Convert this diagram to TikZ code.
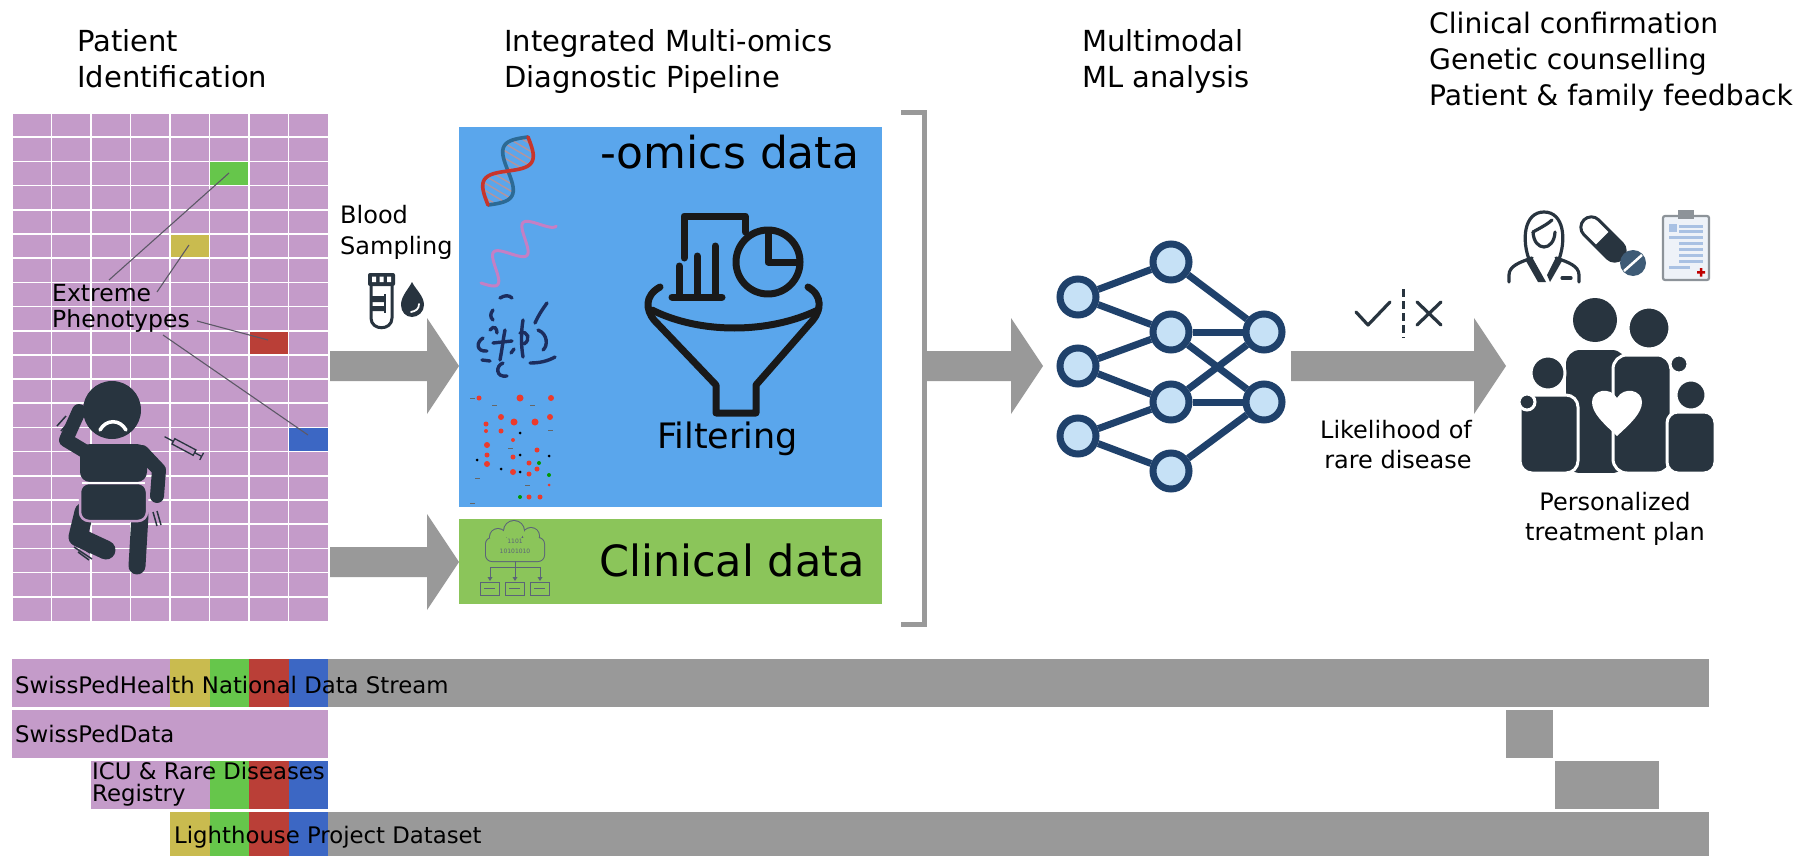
\documentclass[tikz,border=0pt]{standalone}
\usepackage{fontspec}
\setmainfont{DejaVu Sans}
\usetikzlibrary{calc}

\definecolor{gridpurple}{HTML}{C49BC9}
\definecolor{phyellow}{HTML}{C9BB4F}
\definecolor{phgreen}{HTML}{66C64B}
\definecolor{phred}{HTML}{BA3F37}
\definecolor{phblue}{HTML}{3C67C4}
\definecolor{flowgray}{HTML}{999999}
\definecolor{omicsblue}{HTML}{5AA6EC}
\definecolor{clingreen}{HTML}{8BC55A}
\definecolor{ink}{HTML}{28343F}
\definecolor{netnavy}{HTML}{1F416B}
\definecolor{netfill}{HTML}{C6E1F6}
\definecolor{pointer}{HTML}{5C5866}
\definecolor{dnared}{HTML}{C8352B}
\definecolor{dnablue}{HTML}{2C6A95}
\definecolor{rnapink}{HTML}{C57FC4}
\definecolor{chromo}{HTML}{1C2D5E}
\definecolor{dotred}{HTML}{EC3A2C}
\definecolor{icongray}{HTML}{5B6478}
\definecolor{tabletblue}{HTML}{3E5B76}
\definecolor{clipgray}{HTML}{8D9399}
\definecolor{clipline}{HTML}{A9C1E3}
\definecolor{clipfill}{HTML}{EEF2F8}

% wide grey block arrow between two named points on one horizontal line
\newcommand{\blockarrow}[2]{%
  \fill[flowgray] let \p1=(#1), \p2=(#2) in
    (\x1,\y1+15pt) -- (\x2-32pt,\y1+15pt) -- (\x2-32pt,\y1+48pt) -- (\x2,\y1)
    -- (\x2-32pt,\y1-48pt) -- (\x2-32pt,\y1-15pt) -- (\x1,\y1-15pt) -- cycle;}

\begin{document}
\begin{tikzpicture}[x=1pt,y=-1pt,
  head/.style={anchor=base west,inner sep=0pt,font=\fontsize{29}{35}\selectfont},
  headright/.style={anchor=base west,inner sep=0pt,font=\fontsize{28.2}{34}\selectfont},
  label/.style={inner sep=0pt,font=\fontsize{24}{29}\selectfont},
  barlabel/.style={anchor=base west,inner sep=0pt,font=\fontsize{22.8}{27}\selectfont},
  gridline/.style={white,line width=1.6pt},
  pointerline/.style={pointer,line width=1.1pt},
  neuron/.style={circle,draw=netnavy,fill=netfill,line width=7pt,minimum size=36pt,inner sep=0pt},
  synapse/.style={netnavy,line width=7pt},
  iconline/.style={ink,line width=3.2pt,line cap=round,line join=round},
  chromoline/.style={chromo,line width=3.4pt,line cap=round},
  funnelline/.style={black!90,line width=7pt,line cap=round,line join=round},
  smallicon/.style={icongray,line width=1pt},
]
\useasboundingbox (0,0) rectangle (1813,856);
\fill[white] (0,0) rectangle (1813,856);

% ---------------- headings ----------------
\node[head] (h1a) at (77,52) {Patient};
\node[head] (h1b) at (77,88) {Identification};
\node[head] (h2a) at (504,52) {Integrated Multi-omics};
\node[head] (h2b) at (504,88) {Diagnostic Pipeline};
\node[head] (h3a) at (1082,52) {Multimodal};
\node[head] (h3b) at (1082,88) {ML analysis};
\node[headright] (h4a) at (1429,34) {Clinical confirmation};
\node[headright] (h4b) at (1429,70) {Genetic counselling};
\node[headright] (h4c) at (1429,106) {Patient \& family feedback};

% ---------------- patient grid ----------------
\fill[gridpurple] (12,113) rectangle (328,621);
\fill[phgreen]  (209.5,161.4) rectangle ++(39.5,24.2);
\fill[phyellow] (170,234) rectangle ++(39.5,24.2);
\fill[phred]    (249,330.7) rectangle ++(39.5,24.2);
\fill[phblue]   (288.5,427.5) rectangle ++(39.5,24.2);
\foreach \i in {1,...,7} \draw[gridline] (12+\i*39.5,113) -- (12+\i*39.5,621);
\foreach \j in {1,...,20} \draw[gridline] (12,113+\j*24.19) -- (328,113+\j*24.19);
\draw[white,line width=0.8pt] (12,113) rectangle (328,621);

% baby
\begin{scope}[ink]
  \draw[line width=19pt,line cap=round,line join=round] (84,512) -- (78,537) -- (106,550);
  \draw[line width=17pt,line cap=round] (140,515) -- (137,566);
  \draw[line width=14pt,line cap=round,line join=round] (86,452) -- (66,440) -- (79,411);
  \draw[line width=14pt,line cap=round,line join=round] (142,452) -- (159,470) -- (157,496);
  \fill[rounded corners=10pt] (80,482) -- (80,444) -- (147,444) -- (147,482) -- cycle;
  \filldraw[draw=gridpurple,line width=2.5pt,rounded corners=9pt] (80,483) -- (147,483) -- (147,521) -- (80,521) -- cycle;
  \draw[white,line width=1.8pt] (82,483) -- (145,483);
  \fill (112,410) circle (29);
  \draw[white,line width=3.5pt,line cap=round] (100,430) .. controls (106,419) and (120,419) .. (126,430);
  \draw[line width=1.5pt] (57,426) -- (66,416) (61,431) -- (70,421);
  \draw[line width=1.5pt] (153,512) -- (157,526) (157,511) -- (161,525);
  \draw[line width=1.5pt] (72,541) -- (90,553) (74,547) -- (92,559) (78,552) -- (89,560);
\end{scope}
\begin{scope}[shift={(184,447)},rotate=-28]
  \draw[ink,line width=1.3pt,fill=gridpurple] (-12,-3) rectangle (12,3);
  \draw[ink,line width=1.3pt] (-12,0) -- (-22,0) (12,0) -- (20,0) (20,-4) -- (20,4);
\end{scope}

% extreme phenotype labels and pointers
\node[anchor=base west,inner sep=0pt,font=\fontsize{23.5}{28}\selectfont] (ext1) at (52,301) {Extreme};
\node[anchor=base west,inner sep=0pt,font=\fontsize{23.5}{28}\selectfont] (ext2) at (52,327) {Phenotypes};
\coordinate (pg0) at (109,280); \coordinate (pg1) at (229,173);
\coordinate (py0) at (157,292); \coordinate (py1) at (189,245);
\coordinate (pr0) at (197,321); \coordinate (pr1) at (268,340);
\coordinate (pb0) at (163,335); \coordinate (pb1) at (308,435);
\draw[pointerline] (pg0) -- (pg1);
\draw[pointerline] (py0) -- (py1);
\draw[pointerline] (pr0) -- (pr1);
\draw[pointerline] (pb0) -- (pb1);

% ---------------- blood sampling ----------------
\node[label,anchor=base west] (bs1) at (340,223) {Blood};
\node[label,anchor=base west] (bs2) at (340,254) {Sampling};
\fill[ink,rounded corners=2pt] (368,273) rectangle (395,286);
\fill[white] (372,276.5) rectangle (376,282) (379.5,276.5) rectangle (383.5,282) (387,276.5) rectangle (391,282);
\draw[ink,line width=3pt] (371,286) -- (371,318) .. controls (371,331) and (392,331) .. (392,318) -- (392,286);
\fill[ink] (371,296) rectangle (385,302) (371,306) rectangle (385,311);
\draw[ink,line width=2pt] (385,294) -- (385,313);
\fill[ink] (412,282) .. controls (408,290) and (401,296) .. (401,305) .. controls (401,312) and (406,317) .. (412,317)
  .. controls (418,317) and (424,312) .. (424,305) .. controls (424,296) and (416,290) .. (412,282) -- cycle;
\draw[white,line width=1.8pt,line cap=round] (419,304) .. controls (419,309) and (416,311) .. (411,312);

% ---------------- flow arrows ----------------
\coordinate (a1s) at (330,366); \coordinate (a1e) at (459,366);
\coordinate (a2s) at (330,562); \coordinate (a2e) at (459,562);
\coordinate (a3s) at (924,366); \coordinate (a3e) at (1043,366);
\coordinate (a4s) at (1291,366); \coordinate (a4e) at (1506,366);
\blockarrow{a1s}{a1e}
\blockarrow{a2s}{a2e}
\blockarrow{a3s}{a3e}
\blockarrow{a4s}{a4e}

% ---------------- omics panel ----------------
\fill[omicsblue] (459,127) rectangle (882,507);
\node[anchor=base west,inner sep=0pt,font=\fontsize{44}{50}\selectfont] (omics) at (600,168) {-omics data};
\node[anchor=base west,inner sep=0pt,font=\fontsize{35}{40}\selectfont] (filt) at (657,448) {Filtering};

% DNA double helix
\foreach \t in {0.06,0.14,...,0.95}
  \draw[dnared!55!dnablue!60!white,line width=1.4pt]
    ({528-40*\t+13.8*sin(360*\t)},{137+68*\t+8.1*sin(360*\t)}) -- ({528-40*\t-13.8*sin(360*\t)},{137+68*\t-8.1*sin(360*\t)});
\draw[dnablue,line width=3.6pt,line cap=round] plot[domain=0:1,samples=40,variable=\t]
  ({528-40*\t-13.8*sin(360*\t)},{137+68*\t-8.1*sin(360*\t)});
\draw[dnared,line width=3.6pt,line cap=round] plot[domain=0:1,samples=40,variable=\t]
  ({528-40*\t+13.8*sin(360*\t)},{137+68*\t+8.1*sin(360*\t)});
% RNA strand
\draw[rnapink,line width=3pt,line cap=round] plot[domain=0:1,samples=80,variable=\t]
  ({481+66*\t+13*0.712*sin(810*\t)},{283-66*\t+13*0.702*sin(810*\t)});
% chromatin
\draw[chromoline] (500,298) .. controls (505,295) and (509,295) .. (512,298);
\draw[chromoline] (493,310) .. controls (490,314) and (490,317) .. (493,320);
\draw[chromoline] (483,338) .. controls (476,342) and (476,352) .. (487,351);
\draw[chromoline] (490,330) .. controls (494,325) and (497,328) .. (497,333);
\draw[chromoline] (505,330) .. controls (503,340) and (502,350) .. (500,360);
\draw[chromoline] (493,343) -- (512,341);
\draw[chromoline] (523,320) .. controls (521,332) and (521,345) .. (523,357);
\draw[chromoline] (520,333) .. controls (528,330) and (531,340) .. (524,344);
\draw[chromoline] (547,303) .. controls (542,310) and (538,316) .. (535,323);
\draw[chromoline] (538,330) .. controls (548,334) and (548,346) .. (543,350);
\draw[chromoline] (482,360) -- (490,361);
\draw[chromoline] (503,363) .. controls (495,366) and (496,378) .. (507,376);
\draw[chromoline] (530,363) .. controls (540,363) and (548,361) .. (555,357);
\draw[chromoline] (511,353) -- (514,349);
% expression dots
\foreach \x/\y/\r in {479/398/2.5, 520/398/3.5, 551/398/3, 501/417/3, 514/422/3.5, 535/422/3.5,
  550/417/3, 486/424/2.5, 486/431/2, 501/431/2.5, 513/440/2, 487/445/3, 537/450/2.5, 487/455/2.5,
  487/464/3, 513/457/2.5, 529/463/2.5, 537/469/2.5, 513/472/3, 529/474/2.5, 540/497/2.5, 529/497/2.5, 549/485/1.5}
  \fill[dotred] (\x,\y) circle (\r);
\foreach \x/\y in {539/463, 520/497, 549/475} \fill[green!60!black] (\x,\y) circle (2);
\foreach \x/\y in {477/460, 501/469, 520/472, 520/433, 520/455, 549/456} \fill[black] (\x,\y) circle (1.5);
\foreach \x/\y in {470/398, 492/405, 530/405, 508/448, 525/485, 475/478, 470/503, 548/430}
  \draw[black!60,line width=0.6pt] (\x,\y) -- ++(5,0);

% funnel with charts
\draw[funnelline] (684,258) -- (684,216) -- (745,216) -- (745,232);
\draw[funnelline] (679,266) -- (679,297) (697,256) -- (697,297) (715,246) -- (715,297);
\draw[funnelline] (672,297) -- (722,297);
\draw[funnelline] (768,262) circle (32);
\draw[funnelline] (768,231) -- (768,262) -- (799,262);
\draw[funnelline] (660,287) .. controls (644,296) and (646,310) .. (654,320) -- (716,385) -- (716,413) -- (756,413) -- (756,385)
  -- (813,320) .. controls (821,310) and (823,296) .. (808,287);
\draw[funnelline] (652,310) .. controls (700,334) and (768,334) .. (818,310);

% ---------------- clinical panel ----------------
\fill[clingreen] (459,519) rectangle (882,604);
\node[anchor=base west,inner sep=0pt,font=\fontsize{43}{50}\selectfont] (clin) at (599,576) {Clinical data};
\begin{scope}
  \draw[icongray,line width=2pt,rounded corners=6pt] (486,538) rectangle (544,561);
  \draw[icongray,line width=2pt] (498,537) circle (8) (514,531) circle (10) (531,536) circle (8);
  \fill[clingreen,rounded corners=6pt] (486,538) rectangle (544,561);
  \fill[clingreen] (498,537) circle (8) (514,531) circle (10) (531,536) circle (8);
  \node[inner sep=0pt,text=icongray,font=\fontsize{6}{6}\selectfont] (bin1) at (515,541) {1101};
  \node[inner sep=0pt,text=icongray,font=\fontsize{6}{6}\selectfont] (bin2) at (515,551) {10101010};
  \draw[smallicon] (515,561) -- (515,567) (490,567) -- (540,567) (490,567) -- (490,578) (515,567) -- (515,578) (540,567) -- (540,578);
  \foreach \x in {490,515,540} \fill[icongray] (\x-2.5,577) -- (\x+2.5,577) -- (\x,581) -- cycle;
  \foreach \x in {480,505,530} {
    \draw[smallicon] (\x,582) rectangle ++(19,13);
    \draw[smallicon] (\x+4,588.5) -- ++(11,0);
  }
\end{scope}

% bracket
\draw[flowgray,line width=5pt] (901,113) -- (924,113) -- (924,624) -- (901,624);

% ---------------- neural network ----------------
\node[neuron] (L1) at (1078,297) {};
\node[neuron] (L2) at (1078,366) {};
\node[neuron] (L3) at (1078,436) {};
\node[neuron] (M1) at (1171,262) {};
\node[neuron] (M2) at (1171,332) {};
\node[neuron] (M3) at (1171,402) {};
\node[neuron] (M4) at (1171,471) {};
\node[neuron] (R1) at (1264,332) {};
\node[neuron] (R2) at (1264,402) {};
\foreach \a/\b in {L1/M1,L1/M2,L2/M2,L2/M3,L3/M3,L3/M4,M1/R1,M2/R1,M2/R2,M3/R1,M3/R2,M4/R2}
  \draw[synapse] (\a) -- (\b);

% decision marks
\draw[ink,line width=3.2pt,line cap=round,line join=round] (1356,312) -- (1368,325) -- (1390,302);
\draw[ink,line width=3.2pt,line cap=round] (1417,302) -- (1441,325) (1441,302) -- (1417,325);
\draw[ink,line width=3pt,dash pattern=on 8pt off 4pt] (1403,289) -- (1403,338);
\node[label,anchor=base] (lk1) at (1396,438) {Likelihood of};
\node[label,anchor=base] (lk2) at (1398,468) {rare disease};

% ---------------- care icons ----------------
% doctor
\draw[iconline] (1530,262) .. controls (1521,240) and (1524,212) .. (1544,212) .. controls (1564,212) and (1567,240) .. (1558,262);
\draw[iconline] (1533,232) .. controls (1534,252) and (1554,252) .. (1555,232);
\draw[iconline] (1533,232) .. controls (1540,228) and (1548,224) .. (1552,220);
\draw[iconline] (1509,282) -- (1509,275) .. controls (1509,266) and (1520,262) .. (1532,258);
\draw[iconline] (1579,282) -- (1579,275) .. controls (1579,266) and (1568,262) .. (1556,258);
\fill[ink] (1532,257) -- (1546,282) -- (1538,282) -- (1526,261) -- cycle;
\fill[ink] (1556,257) -- (1547,275) -- (1550,282) -- (1562,261) -- cycle;
\draw[iconline] (1562,278) -- (1571,278);
% capsule and tablet
\begin{scope}[shift={(1603,239)},rotate=-45]
  \draw[ink,line width=3pt,fill=white,rounded corners=10.5pt] (-27,-10.5) rectangle (27,10.5);
  \fill[ink,rounded corners=10.5pt] (0,-10.5) -- (27,-10.5) -- (27,10.5) -- (0,10.5) [sharp corners] -- cycle;
  \fill[ink] (-1,-10.5) rectangle (6,10.5);
\end{scope}
\fill[tabletblue] (1633,263) circle (13);
\draw[white,line width=2.5pt] (1624,271) -- (1642,255);
% clipboard
\filldraw[fill=clipfill,draw=clipgray,line width=2.2pt,rounded corners=2pt] (1663,216) rectangle (1709,280);
\fill[clipgray] (1678,210) rectangle (1694,219);
\fill[clipline] (1669,224) rectangle (1677,232);
\foreach \y in {225,230,236,242,248,254,260} \fill[clipline] (1679,\y) rectangle (1703,\y+3);
\fill[clipline] (1669,236) rectangle (1703,239);
\fill[clipline] (1669,266) rectangle (1690,269);
\fill[red!75!black] (1697,271) rectangle (1705,273.5) (1699.8,268) rectangle (1702.3,276.5);
% family
\fill[ink] (1595,320) circle (22);
\fill[ink,rounded corners=14pt] (1566,473) -- (1566,350) -- (1626,350) -- (1626,473) -- cycle;
\filldraw[fill=ink,draw=white,line width=3pt] (1649,328) circle (21);
\filldraw[fill=ink,draw=white,line width=3pt,rounded corners=14pt] (1613,473) -- (1613,355) -- (1671,355) -- (1671,473) -- cycle;
\filldraw[fill=ink,draw=white,line width=3pt] (1679,364) circle (9);
\filldraw[fill=ink,draw=white,line width=3pt] (1548,373) circle (17);
\filldraw[fill=ink,draw=white,line width=3pt,rounded corners=12pt] (1520,473) -- (1520,395) -- (1578,395) -- (1578,473) -- cycle;
\filldraw[fill=ink,draw=white,line width=3pt] (1527,402) circle (8);
\filldraw[fill=ink,draw=white,line width=3pt] (1691,395) circle (15);
\filldraw[fill=ink,draw=white,line width=3pt,rounded corners=11pt] (1667,473) -- (1667,412) -- (1715,412) -- (1715,473) -- cycle;
\fill[white] (1617,436) .. controls (1603,423) and (1592,413) .. (1592,402) .. controls (1592,390) and (1610,386) .. (1617,398)
  .. controls (1624,386) and (1642,390) .. (1642,402) .. controls (1642,413) and (1631,423) .. (1617,436) -- cycle;
\fill[white] (1512,473) rectangle (1722,478);
\node[label,anchor=base] (pt1) at (1615,510) {Personalized};
\node[label,anchor=base] (pt2) at (1615,540) {treatment plan};

% ---------------- data stream bars ----------------
% row 1
\fill[gridpurple] (12,659) rectangle (170,707);
\fill[phyellow] (170,659) rectangle (209.5,707);
\fill[phgreen] (209.5,659) rectangle (249,707);
\fill[phred] (249,659) rectangle (288.5,707);
\fill[phblue] (288.5,659) rectangle (328,707);
\fill[flowgray] (328,659) rectangle (1709,707);
% row 2
\fill[gridpurple] (12,710) rectangle (328,758);
\fill[flowgray] (1506,710) rectangle (1553,758);
% row 3
\fill[gridpurple] (91,761) rectangle (209.5,809);
\fill[phgreen] (209.5,761) rectangle (249,809);
\fill[phred] (249,761) rectangle (288.5,809);
\fill[phblue] (288.5,761) rectangle (328,809);
\fill[flowgray] (1555,761) rectangle (1659,809);
% row 4
\fill[phyellow] (170,812) rectangle (209.5,856);
\fill[phgreen] (209.5,812) rectangle (249,856);
\fill[phred] (249,812) rectangle (288.5,856);
\fill[phblue] (288.5,812) rectangle (328,856);
\fill[flowgray] (328,812) rectangle (1709,856);

\node[barlabel] (sph) at (15,693) {SwissPedHealth National Data Stream};
\node[barlabel] (spd) at (15,742) {SwissPedData};
\node[barlabel] (icu1) at (92,779) {ICU \& Rare Diseases};
\node[barlabel] (icu2) at (92,801) {Registry};
\node[barlabel] (lhp) at (174,843) {Lighthouse Project Dataset};
\end{tikzpicture}
\end{document}
